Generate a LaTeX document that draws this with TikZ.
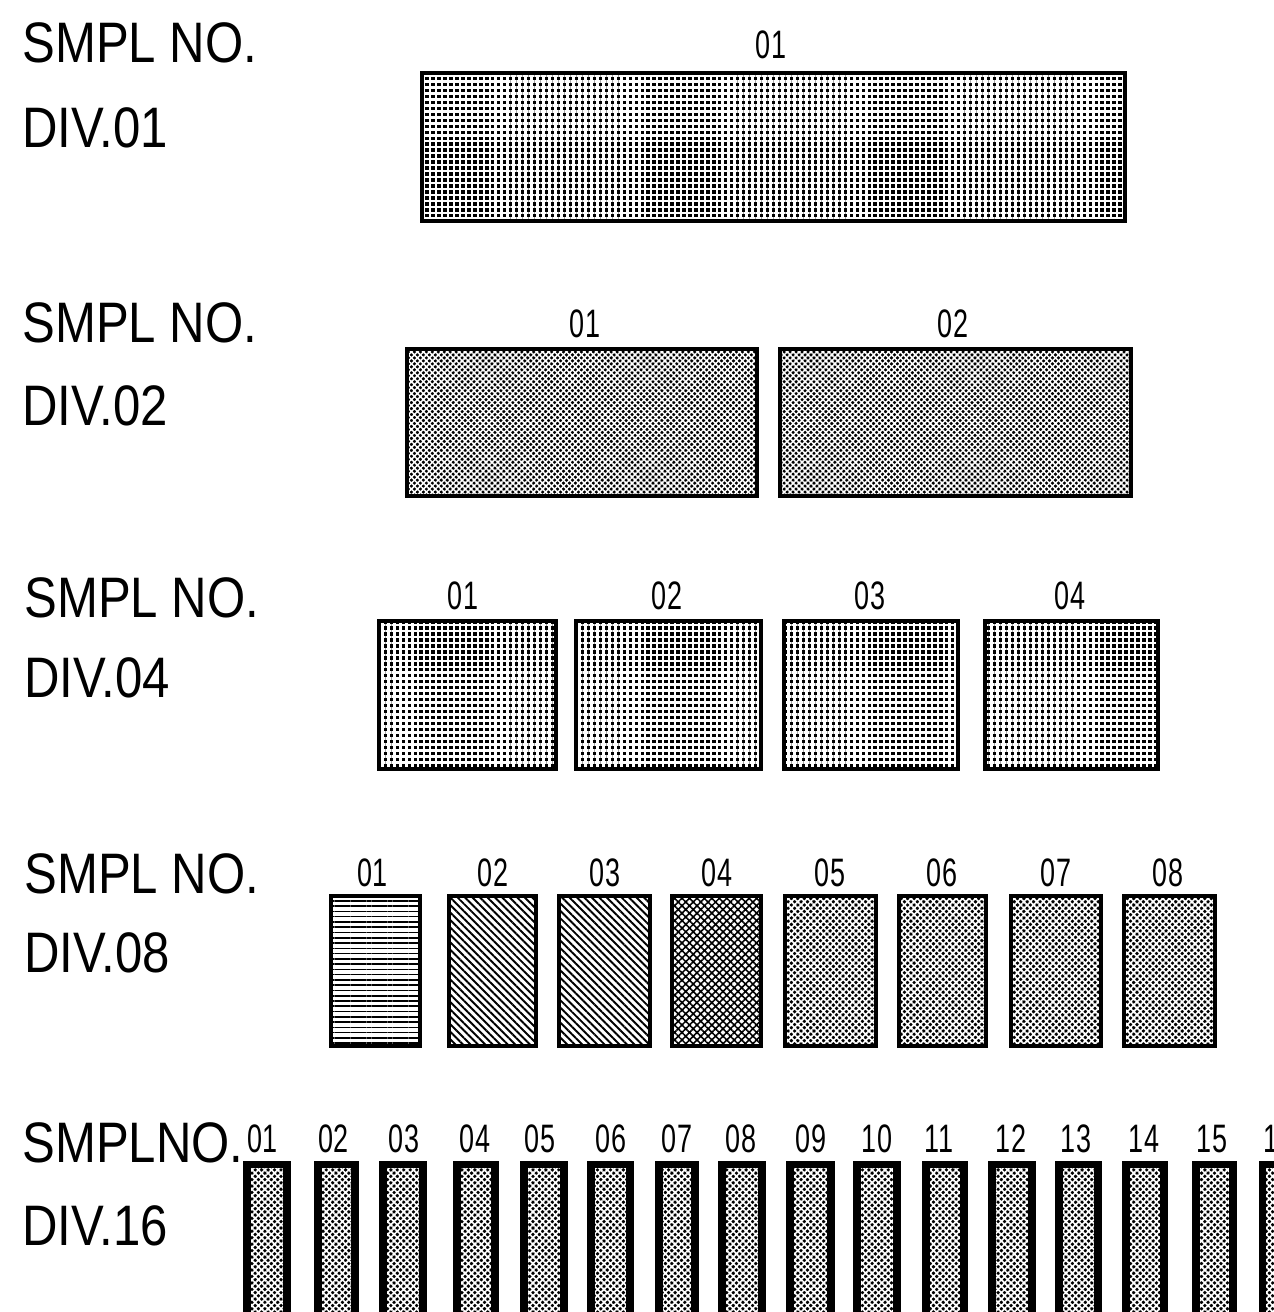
\documentclass[tikz,border=0pt]{standalone}
\usepackage{fontspec}
\setmainfont{Liberation Sans}
\newfontfamily\rowfont[FakeStretch=0.86]{Liberation Sans}
\newfontfamily\numfont[FakeStretch=0.68]{Liberation Sans}
\usetikzlibrary{
    patterns.meta
}

\begin{document}
\begin{tikzpicture}[
        x=0.02cm,
        y=-0.02cm,
        rowlabel/.style={
            anchor=base west,
            inner sep=0pt,
            font=\rowfont\fontsize{32.5}{39}\selectfont
        },
        num/.style={
            anchor=base,
            inner sep=0pt,
            font=\numfont\fontsize{22.6}{27}\selectfont
        },
        cell/.style={
            draw=black,
            line width=2.8pt
        },
        gridfill/.style={
            cell,
            preaction={fill=black},
            pattern={Hatch[distance=3.4pt, line width=1.5pt]},
            pattern color=white
        },
        diafill/.style={
            cell,
            preaction={fill=black},
            pattern={Hatch[angle=45, distance=2.4pt, line width=0.85pt]},
            pattern color=white
        },
        dashfill/.style={
            cell,
            fill=white,
            pattern={Lines[angle=0, distance=3pt, line width=0.9pt]},
            pattern color=black
        },
        slantfill/.style={
            cell,
            pattern={Lines[angle=-45, distance=3pt, line width=1.1pt]},
            pattern color=black
        },
        crossfill/.style={
            cell,
            pattern={Hatch[angle=45, distance=3pt, line width=0.9pt]},
            pattern color=black
        },
        checkfill/.style={
            cell,
            preaction={fill=black},
            pattern={Hatch[angle=45, distance=2.6pt, line width=0.95pt]},
            pattern color=white
        }
    ]

    \useasboundingbox (0,0) rectangle (1274,1312);
    \clip (0,0) rectangle (1274,1312);

    % DIV.01
    \node[rowlabel] (smpl1) at (22,62) {SMPL NO.};
    \node[rowlabel] (div1) at (22,147) {DIV.01};
    \draw[gridfill] (422,73) rectangle (1125,221);
    \node[num] (n1-01) at (771,58) {01};

    % DIV.02
    \node[rowlabel] (smpl2) at (22,342) {SMPL NO.};
    \node[rowlabel] (div2) at (22,425) {DIV.02};
    \foreach \xa/\xb/\xc/\t in {407/757/585/01, 780/1131/953/02} {
        \draw[diafill] (\xa,349) rectangle (\xb,496);
        \node[num] (n2-\t) at (\xc,337) {\t};
    }

    % DIV.04
    \node[rowlabel] (smpl4) at (24,617) {SMPL NO.};
    \node[rowlabel] (div4) at (24,697) {DIV.04};
    \foreach \xa/\xb/\xc/\t in {379/556/463/01, 576/761/667/02,
                                784/958/870/03, 985/1158/1070/04} {
        \draw[gridfill] (\xa,621) rectangle (\xb,769);
        \node[num] (n4-\t) at (\xc,609) {\t};
    }

    % DIV.08
    \node[rowlabel] (smpl8) at (24,893) {SMPL NO.};
    \node[rowlabel] (div8) at (24,972) {DIV.08};
    \foreach \xa/\xb/\xc/\t/\f in {331/420/373/01/dashfill, 449/536/493/02/slantfill,
                                   559/650/605/03/slantfill, 672/761/717/04/crossfill,
                                   785/876/830/05/checkfill, 899/986/942/06/checkfill,
                                   1011/1101/1056/07/checkfill, 1124/1215/1168/08/checkfill} {
        \draw[\f] (\xa,896) rectangle (\xb,1046);
        \node[num] (n8-\t) at (\xc,886) {\t};
    }

    % DIV.16
    \node[rowlabel] (smpl16) at (22,1162) {SMPLNO.};
    \node[rowlabel] (div16) at (22,1245) {DIV.16};
    \foreach \xa/\xb/\xc/\t in {247/287/263/01, 318/355/334/02, 383/423/404/03,
                                457/495/475/04, 524/564/540/05, 591/630/611/06,
                                659/695/677/07, 722/762/741/08, 790/831/811/09,
                                857/897/877/10, 926/964/939/11, 992/1032/1011/12,
                                1059/1098/1076/13, 1126/1164/1144/14, 1196/1233/1212/15,
                                1262/1301/1279/16} {
        \draw[checkfill, line width=4pt] (\xa,1164) rectangle (\xb,1340);
        \node[num] (n16-\t) at (\xc,1152) {\t};
    }

\end{tikzpicture}
\end{document}
